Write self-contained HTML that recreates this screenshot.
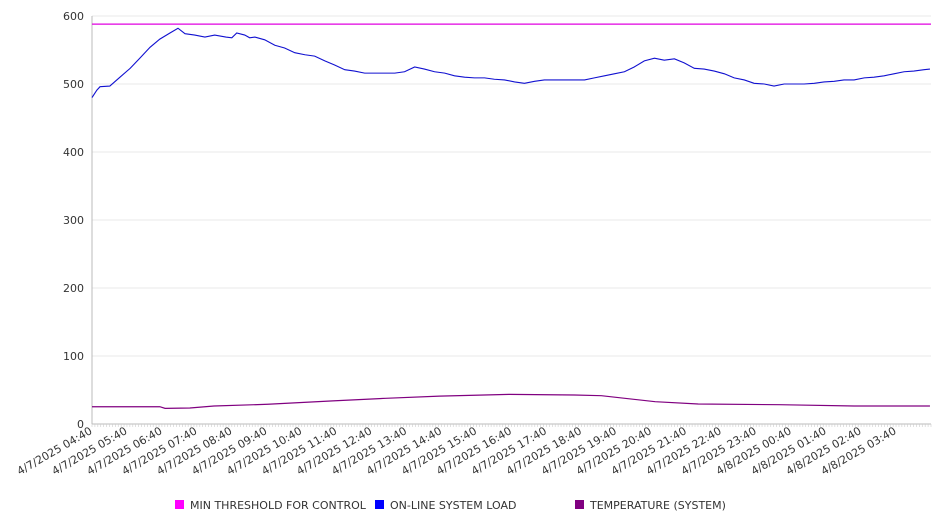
<!DOCTYPE html>
<html><head><meta charset="utf-8"><style>
body{margin:0;background:#fff;font-family:"DejaVu Sans","Liberation Sans",sans-serif;}
</style></head><body>
<svg id="chart" width="946" height="526" xmlns="http://www.w3.org/2000/svg"></svg>
<script>
const yTicks=[0,100,200,300,400,500,600];
const xLabels=["4/7/2025 04:40","4/7/2025 05:40","4/7/2025 06:40","4/7/2025 07:40","4/7/2025 08:40","4/7/2025 09:40","4/7/2025 10:40","4/7/2025 11:40","4/7/2025 12:40","4/7/2025 13:40","4/7/2025 14:40","4/7/2025 15:40","4/7/2025 16:40","4/7/2025 17:40","4/7/2025 18:40","4/7/2025 19:40","4/7/2025 20:40","4/7/2025 21:40","4/7/2025 22:40","4/7/2025 23:40","4/8/2025 00:40","4/8/2025 01:40","4/8/2025 02:40","4/8/2025 03:40"];
const thresholdValue=588;
const loadHours=[0,0.14,0.23,0.51,0.80,1.09,1.37,1.66,1.94,2.23,2.46,2.66,2.94,3.23,3.51,3.83,4.00,4.14,4.37,4.51,4.66,4.94,5.23,5.51,5.80,6.09,6.37,6.66,6.94,7.23,7.51,7.80,8.09,8.37,8.66,8.94,9.23,9.51,9.80,10.09,10.37,10.66,10.94,11.23,11.51,11.80,12.09,12.37,12.66,12.94,13.23,13.51,13.80,14.09,14.37,14.66,14.94,15.23,15.51,15.80,16.09,16.37,16.66,16.94,17.23,17.51,17.80,18.09,18.37,18.66,18.94,19.23,19.51,19.80,20.09,20.37,20.66,20.94,21.23,21.51,21.80,22.09,22.37,22.66,22.94,23.23,23.51,23.80,23.97];
const loadValues=[480,491,496,497,510,523,538,554,566,575,582,574,572,569,572,569,568,575,572,568,569,565,557,553,546,543,541,534,528,521,519,516,516,516,516,518,525,522,518,516,512,510,509,509,507,506,503,501,504,506,506,506,506,506,509,512,515,518,525,534,538,535,537,531,523,522,519,515,509,506,501,500,497,500,500,500,501,503,504,506,506,509,510,512,515,518,519,521,522];
const tempHours=[0,1.94,2.09,2.80,3.49,5.03,6.89,8.40,9.94,11.94,13.80,14.57,16.11,17.34,19.66,21.80,23.97];
const tempValues=[25.4,25.4,23,23.5,26.5,29,34,37.8,41,43.6,42.6,41.6,32.8,29.4,28.4,26.5,26.5];
</script>
<script>
const svg=document.getElementById('chart');
const NS='http://www.w3.org/2000/svg';
const X0=92,X1=931,Y0=424,Y1=16,HOURS=24;
const px=h=>X0+h/HOURS*(X1-X0);
const py=v=>Y0-v/600*(Y0-Y1);
function mk(t,a,p){const e=document.createElementNS(NS,t);for(const k in a)e.setAttribute(k,a[k]);(p||svg).appendChild(e);return e;}
yTicks.forEach(v=>{
  const g=mk('line',{x1:X0,x2:X1,y1:py(v),y2:py(v),stroke:v===0?'#bbb':'#e8e8e8','stroke-width':1});
  
  
  const t=mk('text',{x:84,y:py(v)+4,'text-anchor':'end','font-size':11,fill:'#333'});
  t.textContent=v;
  
  
});
const ax=mk('line',{x1:X0,x2:X0,y1:Y1,y2:Y0,stroke:'#bbb'});


for(let m=0;m<=HOURS*60;m+=5){mk('line',{x1:px(m/60),x2:px(m/60),y1:Y0,y2:Y0+3,stroke:'#ccc','stroke-width':0.6});}
xLabels.forEach((l,i)=>{
  const x=px(i)+1,y=Y0+9;
  const t=mk('text',{x:x,y:y,'text-anchor':'end','font-size':11,fill:'#333',transform:`rotate(-30 ${x} ${y})`});
  t.textContent=l;
  
  
});
const th=mk('line',{x1:X0,x2:X1,y1:py(thresholdValue),y2:py(thresholdValue),stroke:'#e000e0','stroke-width':1.2});


const lp=mk('polyline',{points:loadHours.map((h,i)=>px(h)+','+py(loadValues[i])).join(' '),fill:'none',stroke:'#1010d0','stroke-width':1.1});


const tp=mk('polyline',{points:tempHours.map((h,i)=>px(h)+','+py(tempValues[i])).join(' '),fill:'none',stroke:'#800080','stroke-width':1.2});


const leg=[['MIN THRESHOLD FOR CONTROL','#ff00ff',175],['ON-LINE SYSTEM LOAD','#0000ff',375],['TEMPERATURE (SYSTEM)','#800080',575]];
leg.forEach(([n,c,x])=>{
  const g=mk('g',{});
  
  
  mk('rect',{x:x,y:500,width:9,height:9,fill:c},g);
  const t=mk('text',{x:x+15,y:509,'font-size':11,fill:'#333'},g);
  t.textContent=n;
});
</script>
</body></html>
